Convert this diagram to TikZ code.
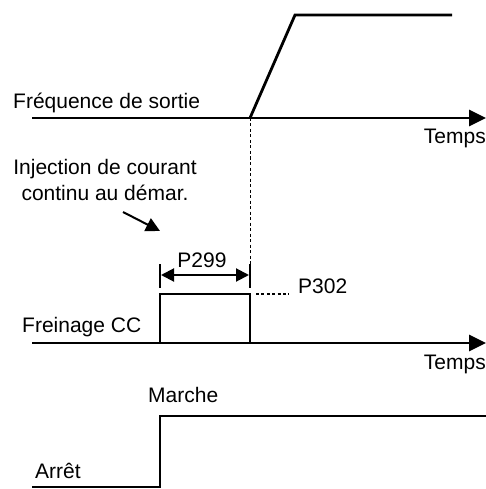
\documentclass[tikz,border=0pt]{standalone}
\usepackage{fontspec}
\setmainfont{Liberation Sans}
\usetikzlibrary{arrows.meta}
\begin{document}
\begin{tikzpicture}[x=1pt,y=-1pt,
  lbl/.style={font=\fontsize{21}{25}\selectfont, inner sep=0pt},
  sig/.style={line width=2.8pt},
  axis/.style={line width=2.8pt,-{Triangle[length=17pt,width=16pt]}},
  guide/.style={line width=0.7pt,dash pattern=on 3pt off 2.5pt},
  dots/.style={line width=1.6pt,dash pattern=on 3pt off 2.4pt},
  dim/.style={line width=2pt,{Triangle[length=13pt,width=13pt]}-{Triangle[length=13pt,width=13pt]}},
  tick/.style={line width=2pt},
  callout/.style={line width=2pt,-{Triangle[length=14pt,width=14pt]}}]
\useasboundingbox (0,0) rectangle (486,489);

% ---- output frequency ----
\coordinate (f0) at (32,118);
\coordinate (f1) at (486,118);
\coordinate (t0) at (250,118);
\coordinate (r1) at (295,15);
\coordinate (r2) at (452,15);
\draw[axis] (f0) -- (f1);
\draw[sig,line join=miter] (t0) -- (r1) -- (r2);
\node[lbl,anchor=base west] (freq) at (13,109) {Fréquence de sortie};
\node[lbl,anchor=base east] (temps1) at (486,143) {Temps};

% ---- annotation ----
\node[lbl,align=center,anchor=base] (inj) at (105,200) {Injection de courant\\continu au démar.};
\coordinate (ia) at (123,212);
\coordinate (ib) at (160,231);
\draw[callout] (ia) -- (ib);

% ---- DC braking ----
\coordinate (b0) at (32,343);
\coordinate (b1) at (486,343);
\coordinate (p0) at (160,343);
\coordinate (p1) at (160,294);
\coordinate (p2) at (250,294);
\coordinate (p3) at (250,343);
\draw[axis] (b0) -- (b1);
\draw[sig,line join=miter] (p0) -- (p1) -- (p2) -- (p3);
\node[lbl,anchor=base west] (frein) at (22,332) {Freinage CC};
\node[lbl,anchor=base east] (temps2) at (486,369) {Temps};

% P299 dimension
\coordinate (k1a) at (160,264);
\coordinate (k1b) at (160,288);
\coordinate (k2a) at (250,264);
\coordinate (k2b) at (250,288);
\draw[tick] (k1a) -- (k1b);
\draw[tick] (k2a) -- (k2b);
\coordinate (d1) at (161,275);
\coordinate (d2) at (249,275);
\draw[dim] (d1) -- (d2);
\node[lbl,anchor=base] (p299) at (202,267) {P299};

% P302
\coordinate (q1) at (256,294);
\coordinate (q2) at (289,294);
\draw[dots] (q1) -- (q2);
\node[lbl,anchor=base west] (p302) at (298,293) {P302};

% vertical guide
\draw[guide] (t0) -- (k2a);

% ---- run / stop ----
\coordinate (s0) at (32,487);
\coordinate (s1) at (160,487);
\coordinate (s2) at (160,416);
\coordinate (s3) at (486,416);
\draw[sig,line join=miter] (s0) -- (s1) -- (s2) -- (s3);
\node[lbl,anchor=base west] (marche) at (148,402) {Marche};
\node[lbl,anchor=base west] (arret) at (35,478) {Arrêt};
\end{tikzpicture}
\end{document}
